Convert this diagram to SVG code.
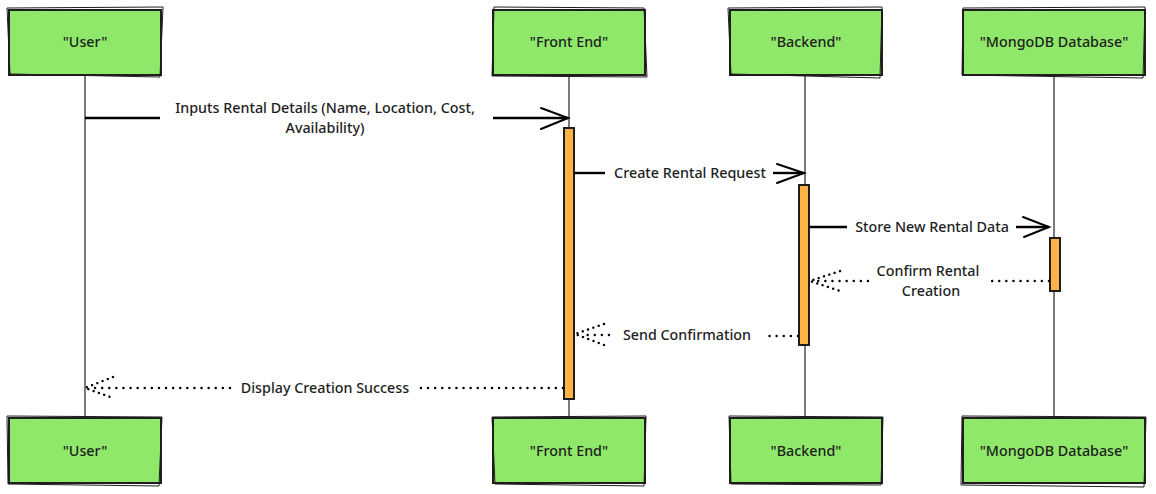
<svg xmlns="http://www.w3.org/2000/svg" width="1156" height="494" viewBox="0 0 1156 494">
<defs>
<style>
.box{fill:#8fe86a;stroke:#1e1e1e;stroke-width:2}
.sk{fill:none;stroke:#1e1e1e;stroke-width:1}
.life{stroke:#333;stroke-width:1.3;fill:none}
.act{fill:#ffb347;stroke:#1e1e1e;stroke-width:2}
.t{font-family:"Noto Sans","Liberation Sans",sans-serif;font-size:14.3px;font-weight:500;fill:#1e1e1e;text-anchor:middle}
.m{stroke:#000;stroke-width:2.4;fill:none}
.d{stroke:#000;stroke-width:2.4;fill:none;stroke-dasharray:0.1 7;stroke-linecap:round}
.ah{stroke:#000;stroke-width:2;fill:none;stroke-linecap:round}
.dh{stroke:#000;stroke-width:2.4;fill:none;stroke-dasharray:0.1 5.5;stroke-linecap:round}
</style>
</defs>
<rect width="1156" height="494" fill="#fff"/>
<g id="lifelines">
<line class="life" x1="85" y1="75" x2="85" y2="418"/>
<line class="life" x1="569" y1="75" x2="569" y2="418"/>
<line class="life" x1="805" y1="75" x2="805" y2="418"/>
<line class="life" x1="1054" y1="75" x2="1054" y2="418"/>
</g>
<g id="user-top"><rect class="box" x="9" y="10" width="152" height="65"/><path class="sk" d="M7 8 L163 7 L160 77 L10 74 Z"/><text class="t" x="85" y="47">"User"</text></g>
<g id="frontend-top"><rect class="box" x="493" y="10" width="152" height="65"/><path class="sk" d="M494 7 L644 8 L647 77 L492 76 Z"/><text class="t" x="569" y="47">"Front End"</text></g>
<g id="backend-top"><rect class="box" x="730" y="10" width="152" height="65"/><path class="sk" d="M728 8 L882 7 L880 78 L731 74 Z"/><text class="t" x="806" y="47">"Backend"</text></g>
<g id="mongo-top"><rect class="box" x="963" y="10" width="182" height="65"/><path class="sk" d="M963 8 L1145 7 L1143 78 L962 75 Z"/><text class="t" x="1054" y="47">"MongoDB Database"</text></g>
<g id="user-bottom"><rect class="box" x="9" y="418" width="152" height="65"/><path class="sk" d="M7 416 L162 417 L159 486 L8 484 Z"/><text class="t" x="85" y="456">"User"</text></g>
<g id="frontend-bottom"><rect class="box" x="493" y="418" width="152" height="65"/><path class="sk" d="M492 417 L646 416 L644 486 L495 484 Z"/><text class="t" x="569" y="456">"Front End"</text></g>
<g id="backend-bottom"><rect class="box" x="730" y="418" width="152" height="65"/><path class="sk" d="M729 416 L883 417 L881 485 L731 484 Z"/><text class="t" x="806" y="456">"Backend"</text></g>
<g id="mongo-bottom"><rect class="box" x="963" y="418" width="182" height="65"/><path class="sk" d="M962 416 L1146 417 L1144 487 L961 485 Z"/><text class="t" x="1054" y="456">"MongoDB Database"</text></g>
<g id="activations">
<rect class="act" x="564" y="128" width="10" height="271"/>
<rect class="act" x="799" y="185" width="10" height="160"/>
<rect class="act" x="1050" y="238" width="10" height="53"/>
</g>
<g id="connectors">
<line class="m" x1="85" y1="118" x2="160" y2="118"/>
<line class="m" x1="493" y1="118" x2="568" y2="118"/>
<path class="ah" d="M541 108 L568 118 L541 129"/>
<text class="t" x="325" y="113">Inputs Rental Details (Name, Location, Cost,</text>
<text class="t" x="325" y="133">Availability)</text>

<line class="m" x1="574" y1="173" x2="605" y2="173"/>
<line class="m" x1="773" y1="173" x2="804" y2="173"/>
<path class="ah" d="M777 164 L804 173 L777 183"/>
<text class="t" x="690" y="178">Create Rental Request</text>

<line class="m" x1="809" y1="227" x2="847" y2="227"/>
<line class="m" x1="1016" y1="227" x2="1049" y2="227"/>
<path class="ah" d="M1023 217 L1049 227 L1024 237"/>
<text class="t" x="932" y="232">Store New Rental Data</text>

<line class="d" x1="1049" y1="281" x2="992" y2="281"/>
<line class="d" x1="868" y1="281" x2="815" y2="281"/>
<path class="dh" d="M840 271 L810 281 L840 291"/>
<text class="t" x="928" y="276">Confirm Rental</text>
<text class="t" x="931" y="296">Creation</text>

<line class="d" x1="798" y1="336" x2="763" y2="336"/>
<line class="d" x1="609" y1="335" x2="582" y2="335"/>
<path class="dh" d="M604 324 L575 334 L604 345"/>
<text class="t" x="687" y="340">Send Confirmation</text>

<line class="d" x1="563" y1="388" x2="420" y2="388"/>
<line class="d" x1="230" y1="388" x2="92" y2="388"/>
<path class="dh" d="M113 377 L85 388 L113 398"/>
<text class="t" x="325" y="393">Display Creation Success</text>
</g>
</svg>
